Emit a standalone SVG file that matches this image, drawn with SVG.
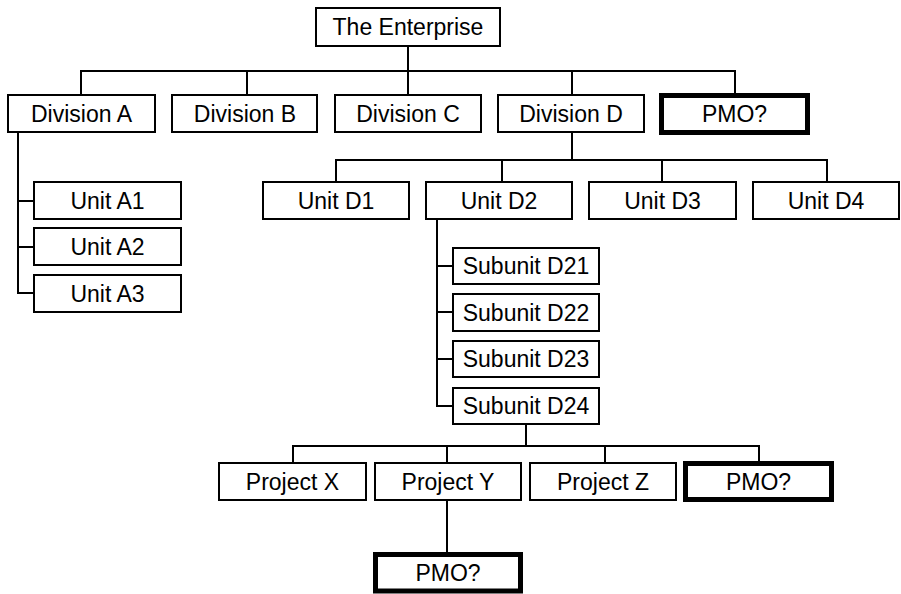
<svg xmlns="http://www.w3.org/2000/svg" width="901" height="594" viewBox="0 0 901 594">
  <style>
    .box { fill: #ffffff; stroke: #000000; stroke-width: 2; }
    .pmo { fill: #ffffff; stroke: #000000; stroke-width: 5; }
    .lbl { font-family: "Liberation Sans", Arial, Helvetica, sans-serif; font-size: 23px; fill: #000000; text-anchor: middle; }
    .wire { fill: none; stroke: #000000; stroke-width: 2; stroke-linecap: square; }
  </style>
  <rect width="901" height="594" fill="#ffffff"/>

  <!-- connectors -->
  <g id="connectors" class="wire">
    <!-- enterprise to divisions -->
    <path d="M408 47 V71 M81 71 H735 M81 71 V94 M247 71 V94 M408 71 V94 M572 71 V94 M735 71 V93"/>
    <!-- division A to its units -->
    <path d="M18 133 V293 M18 201 H33 M18 247 H33 M18 293 H33"/>
    <!-- division D to its units -->
    <path d="M572 133 V160 M336 160 H827 M336 160 V181 M502 160 V181 M662 160 V181 M827 160 V181"/>
    <!-- unit D2 to subunits -->
    <path d="M437 220 V406 M437 266 H452 M437 312 H452 M437 359 H452 M437 406 H452"/>
    <!-- subunit D24 to projects -->
    <path d="M526 425 V446 M293 446 H759 M293 446 V462 M447 446 V462 M605 446 V462 M759 446 V461"/>
    <!-- project Y to its PMO -->
    <path d="M447 501 V552"/>
  </g>

  <g id="enterprise">
    <rect class="box" x="316" y="8" width="184" height="38"/>
    <text class="lbl" x="408" y="35">The Enterprise</text>
  </g>

  <g id="division-a">
    <rect class="box" x="8" y="95" width="147" height="37"/>
    <text class="lbl" x="81.5" y="121.5">Division A</text>
  </g>
  <g id="division-b">
    <rect class="box" x="172" y="95" width="145" height="37"/>
    <text class="lbl" x="245" y="121.5">Division B</text>
  </g>
  <g id="division-c">
    <rect class="box" x="335" y="95" width="146" height="37"/>
    <text class="lbl" x="408" y="121.5">Division C</text>
  </g>
  <g id="division-d">
    <rect class="box" x="498" y="95" width="146" height="37"/>
    <text class="lbl" x="571" y="121.5">Division D</text>
  </g>
  <g id="pmo-enterprise">
    <rect class="pmo" x="661.5" y="95.5" width="146" height="37"/>
    <text class="lbl" x="734.5" y="121.5">PMO?</text>
  </g>

  <g id="unit-a1">
    <rect class="box" x="34" y="182" width="147" height="37"/>
    <text class="lbl" x="107.5" y="208.5">Unit A1</text>
  </g>
  <g id="unit-a2">
    <rect class="box" x="34" y="228" width="147" height="37"/>
    <text class="lbl" x="107.5" y="254.5">Unit A2</text>
  </g>
  <g id="unit-a3">
    <rect class="box" x="34" y="275" width="147" height="37"/>
    <text class="lbl" x="107.5" y="301.5">Unit A3</text>
  </g>

  <g id="unit-d1">
    <rect class="box" x="263" y="182" width="146" height="37"/>
    <text class="lbl" x="336" y="208.5">Unit D1</text>
  </g>
  <g id="unit-d2">
    <rect class="box" x="426" y="182" width="146" height="37"/>
    <text class="lbl" x="499" y="208.5">Unit D2</text>
  </g>
  <g id="unit-d3">
    <rect class="box" x="589" y="182" width="147" height="37"/>
    <text class="lbl" x="662.5" y="208.5">Unit D3</text>
  </g>
  <g id="unit-d4">
    <rect class="box" x="753" y="182" width="146" height="37"/>
    <text class="lbl" x="826" y="208.5">Unit D4</text>
  </g>

  <g id="subunit-d21">
    <rect class="box" x="453" y="248" width="146" height="36"/>
    <text class="lbl" x="526" y="274">Subunit D21</text>
  </g>
  <g id="subunit-d22">
    <rect class="box" x="453" y="294" width="146" height="37"/>
    <text class="lbl" x="526" y="320.5">Subunit D22</text>
  </g>
  <g id="subunit-d23">
    <rect class="box" x="453" y="341" width="146" height="36"/>
    <text class="lbl" x="526" y="367">Subunit D23</text>
  </g>
  <g id="subunit-d24">
    <rect class="box" x="453" y="388" width="146" height="36"/>
    <text class="lbl" x="526" y="414">Subunit D24</text>
  </g>

  <g id="project-x">
    <rect class="box" x="219" y="463" width="147" height="37"/>
    <text class="lbl" x="292.5" y="489.5">Project X</text>
  </g>
  <g id="project-y">
    <rect class="box" x="375" y="463" width="146" height="37"/>
    <text class="lbl" x="448" y="489.5">Project Y</text>
  </g>
  <g id="project-z">
    <rect class="box" x="530" y="463" width="146" height="37"/>
    <text class="lbl" x="603" y="489.5">Project Z</text>
  </g>
  <g id="pmo-subunit">
    <rect class="pmo" x="685.5" y="463.5" width="146" height="36"/>
    <text class="lbl" x="758.5" y="489.5">PMO?</text>
  </g>

  <g id="pmo-project">
    <rect class="pmo" x="375.5" y="554.5" width="145" height="36.5"/>
    <text class="lbl" x="448" y="580.5">PMO?</text>
  </g>
</svg>
